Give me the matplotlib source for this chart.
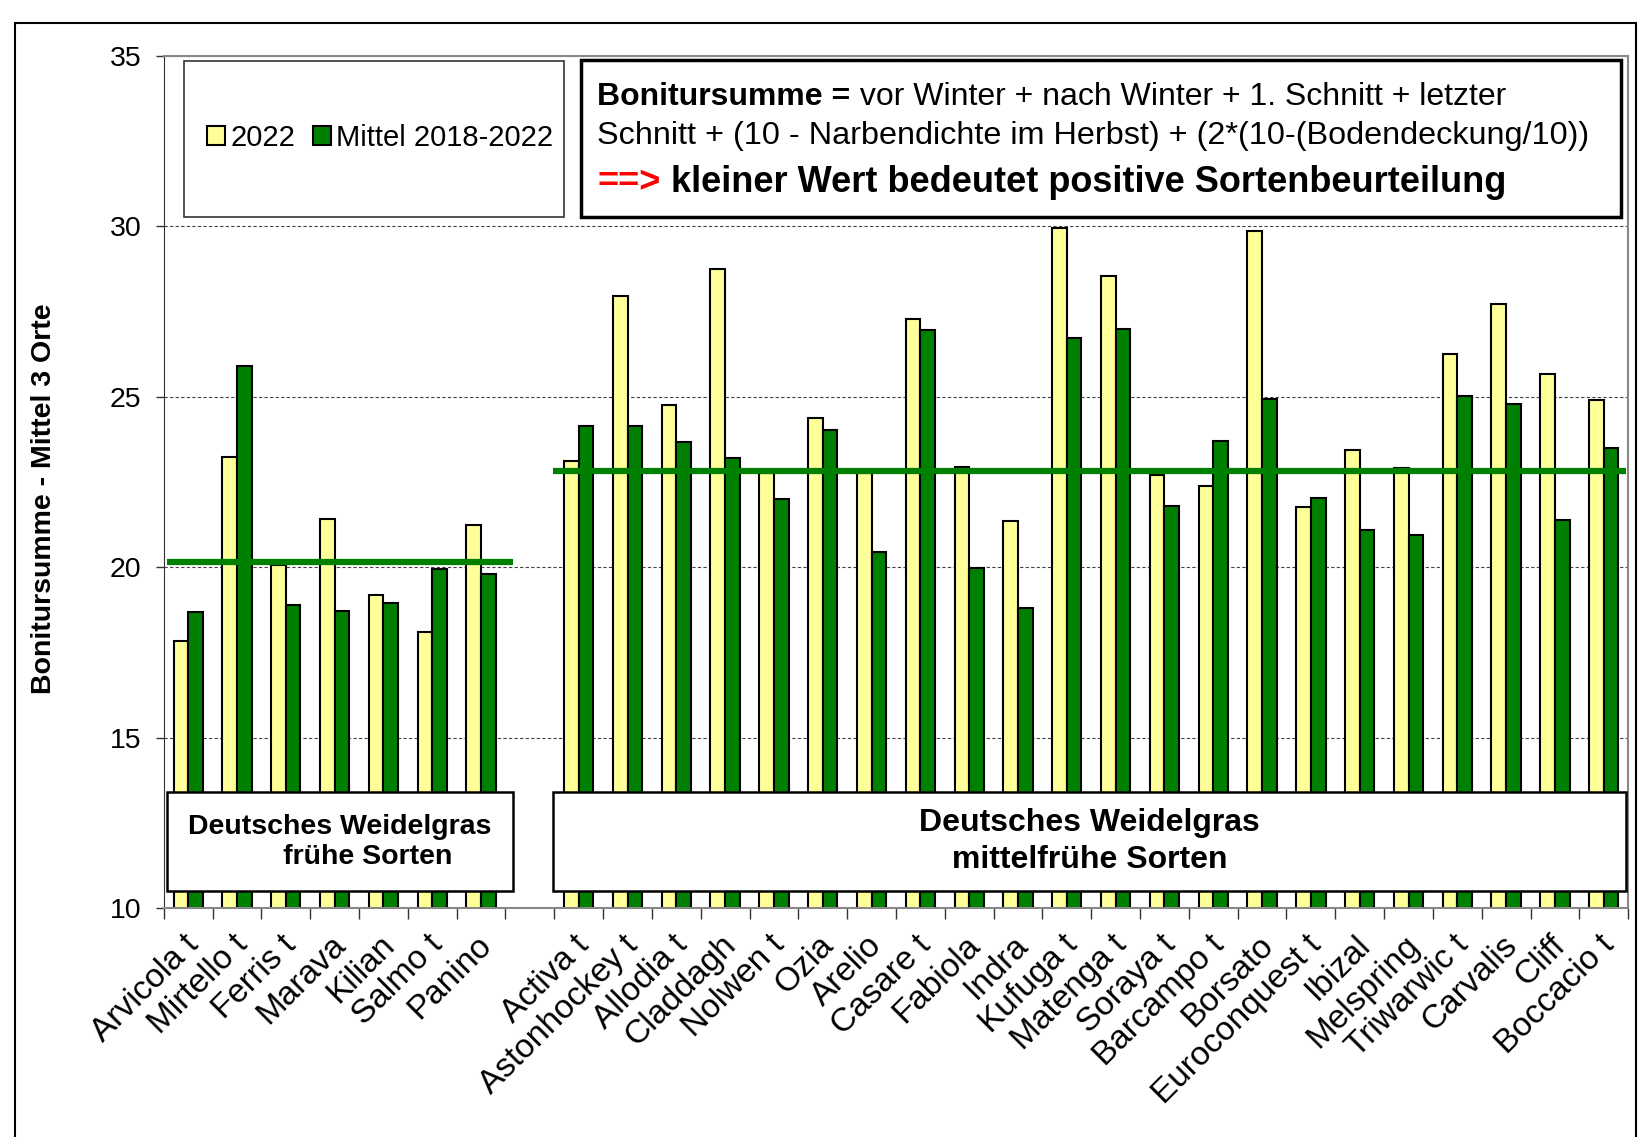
import numpy as np
import matplotlib
matplotlib.use('Agg')
import matplotlib.pyplot as plt
from matplotlib.patches import Rectangle
from matplotlib.transforms import ScaledTranslation

plt.rcParams['font.family'] = ['Liberation Sans', 'DejaVu Sans']

# Sorten (leerer Eintrag = Lücke zwischen den Gruppen)
sorten = ['Arvicola t', 'Mirtello t', 'Ferris t', 'Marava', 'Kilian', 'Salmo t', 'Panino', '',
          'Activa t', 'Astonhockey t', 'Allodia t', 'Claddagh', 'Nolwen t', 'Ozia', 'Arelio',
          'Casare t', 'Fabiola', 'Indra', 'Kufuga t', 'Matenga t', 'Soraya t', 'Barcampo t',
          'Borsato', 'Euroconquest t', 'Ibizal', 'Melspring', 'Triwarwic t', 'Carvalis', 'Cliff',
          'Boccacio t']
werte_2022 = [17.85, 23.24, 20.07, 21.43, 19.20, 18.10, 21.23, np.nan,
              23.12, 27.95, 24.75, 28.76, 22.77, 24.38, 22.77, 27.29, 22.95, 21.36, 29.95,
              28.55, 22.71, 22.38, 29.85, 21.76, 23.44, 22.92, 26.25, 27.71, 25.67, 24.92]
mittel_2018_2022 = [18.68, 25.91, 18.89, 18.71, 18.96, 19.94, 19.80, np.nan,
                    24.14, 24.14, 23.67, 23.20, 21.99, 24.02, 20.45, 26.97, 19.98, 18.82, 26.73,
                    26.99, 21.80, 23.69, 24.93, 22.02, 21.11, 20.95, 25.02, 24.79, 21.39, 23.50]

gruppen = ['Deutsches Weidelgras\n       frühe Sorten', 'Deutsches Weidelgras\nmittelfrühe Sorten']
gruppen_mittel = [20.15, 22.82]

fig = plt.figure(figsize=(16.38, 11.37), dpi=100)
ax = fig.add_axes([0.100, 0.201, 0.894, 0.750])

x = np.arange(len(sorten))
w = 0.30
ax.bar(x - w / 2, werte_2022, w, color='#ffff99', edgecolor='black', lw=1.5,
       label='2022', zorder=2)
ax.bar(x + w / 2, mittel_2018_2022, w, color='#008000', edgecolor='black', lw=1.5,
       label='Mittel 2018-2022', zorder=2)

ax.set_ylim(10, 35)
ax.set_xlim(-0.5, len(sorten) - 0.5)
ax.set_yticks([10, 15, 20, 25, 30, 35])
ax.yaxis.grid(True, ls=(0, (3, 2)), color='#444444', lw=0.8)
ax.set_axisbelow(True)

ax.set_xticks(x)
ax.set_xticklabels(sorten, rotation=45, ha='right', va='center', rotation_mode='anchor')
ax.set_xticks(np.arange(len(sorten) + 1) - 0.5, minor=True)
ax.tick_params(axis='x', which='major', length=0, pad=23, labelsize=24)
ax.tick_params(axis='x', which='minor', length=8, width=1, direction='out', color='#333333')
ax.tick_params(axis='y', length=6, width=1, pad=10, labelsize=20.5, color='#333333')
off = ScaledTranslation(0.06, 0, fig.dpi_scale_trans)
for lab in ax.get_xticklabels():
    lab.set_transform(lab.get_transform() + off)

for s in ['top', 'right', 'bottom']:
    ax.spines[s].set_color('#888888')
    ax.spines[s].set_linewidth(1.5)
ax.spines['left'].set_color('#333333')

# Gruppenmittel und Gruppenkästen
box_x0 = [-0.44, 7.47]
box_x1 = [6.65, 29.46]
box_fs = [20.5, 23]
box_ls = [1.2, 1.3]
for i in range(2):
    ax.plot([box_x0[i], box_x1[i]], [gruppen_mittel[i]] * 2,
            color='#008000', lw=4.5, zorder=3, solid_capstyle='butt')
    ax.add_patch(Rectangle((box_x0[i], 10.52), box_x1[i] - box_x0[i], 2.88,
                           facecolor='white', edgecolor='black', lw=1.8, zorder=4))
    ax.text((box_x0[i] + box_x1[i]) / 2, 11.96, gruppen[i], ha='center', va='center',
            fontsize=box_fs[i], weight='bold', zorder=5, linespacing=box_ls[i])

# Legendenkasten
ax.add_patch(Rectangle((0.0136, 0.811), 0.260, 0.183, transform=ax.transAxes,
                       facecolor='white', edgecolor='#333333', lw=1.2, zorder=4))
ax.legend(loc='center', bbox_to_anchor=(0.148, 0.904), frameon=False, ncol=2,
          fontsize=21, handlelength=0.6, handleheight=0.6, handletextpad=0.2,
          columnspacing=0.6).set_zorder(5)

# Erläuterungskasten
ax.add_patch(Rectangle((0.285, 0.811), 0.710, 0.184, transform=ax.transAxes,
                       facecolor='white', edgecolor='black', lw=2.5, zorder=4))
t1 = ax.text(0.296, 0.952, 'Bonitursumme =', transform=ax.transAxes, fontsize=23,
             weight='bold', va='center', zorder=5)
ax.annotate(' vor Winter + nach Winter + 1. Schnitt + letzter', xy=(1, 0), xycoords=t1,
            va='bottom', fontsize=23, zorder=5)
ax.text(0.296, 0.906, 'Schnitt + (10 - Narbendichte im Herbst) + (2*(10-(Bodendeckung/10))',
        transform=ax.transAxes, fontsize=23.3, va='center', zorder=5)
t3 = ax.text(0.296, 0.851, '==>', transform=ax.transAxes, fontsize=26, weight='bold',
             color='red', va='center', zorder=5)
ax.annotate(' kleiner Wert bedeutet positive Sortenbeurteilung', xy=(1, 0), xycoords=t3,
            va='bottom', fontsize=26, weight='bold', zorder=5)

fig.text(0.027, 0.561, 'Bonitursumme - Mittel 3 Orte', rotation=90, ha='center',
         va='center', fontsize=20.5, weight='bold')

fig.patches.append(Rectangle((0.009, -0.01), 0.99, 0.99, transform=fig.transFigure,
                             fill=False, edgecolor='black', lw=1.5))

fig.savefig('out.png', dpi=100)
